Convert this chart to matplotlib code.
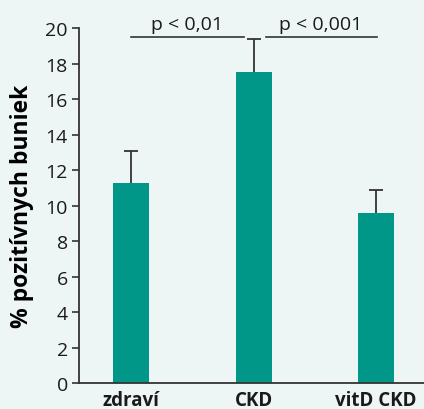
import numpy as np
import matplotlib
matplotlib.use("Agg")
from matplotlib import pyplot as plt

groups = ["zdraví", "CKD", "vitD CKD"]
values = [11.3, 17.5, 9.6]
errors = [1.8, 1.9, 1.3]
yticks = [0, 2, 4, 6, 8, 10, 12, 14, 16, 18, 20]

plt.rcParams['font.family'] = ['Open Sans', 'DejaVu Sans']

bg = '#eef6f5'
teal = '#009688'
dark = '#333333'

fig = plt.figure(figsize=(4.24, 4.10), dpi=100, facecolor=bg)
ax = fig.add_axes([79/424, 1 - 384.3/410, 1 - 79/424, (384.3 - 29)/410])
ax.set_facecolor(bg)

x = np.arange(len(groups))
ax.bar(x, values, width=0.294, color=teal, zorder=2)
# jen horná chybová úsečka, spodná časť sa schová pod stĺpec
ax.errorbar(x, values, yerr=[np.full(3, 1.0), errors], fmt='none',
            ecolor=dark, elinewidth=1.3, capsize=5, capthick=1.3, zorder=1)

ax.set_xlim(-0.425, 2.39)
ax.set_ylim(0, 20)
ax.set_yticks(yticks)
ax.set_yticklabels([str(t) for t in yticks], fontsize=14, color='#1a1a1a')
ax.set_xticks(x)
ax.set_xticklabels(groups, fontsize=13.5, fontweight='bold', color='#1a1a1a')
ax.tick_params(axis='x', length=0, pad=5)
ax.tick_params(axis='y', length=5, width=1.2, color=dark, pad=3)
ax.set_ylabel("% pozitívnych buniek", fontsize=16.5, fontweight='bold', labelpad=8)

for s in ['top', 'right']:
    ax.spines[s].set_visible(False)
for s in ['left', 'bottom']:
    ax.spines[s].set_color(dark)
    ax.spines[s].set_linewidth(1.3)

# significance lines
ax.plot([0, 0.92], [19.5, 19.5], color=dark, lw=1.2, clip_on=False)
ax.plot([1.1, 2.01], [19.5, 19.5], color=dark, lw=1.2, clip_on=False)
ax.text(0.46, 19.7, "p < 0,01", ha='center', va='bottom', fontsize=14, color='#1a1a1a')
ax.text(1.55, 19.7, "p < 0,001", ha='center', va='bottom', fontsize=14, color='#1a1a1a')

fig.savefig("out.png", dpi=100, facecolor=bg)
